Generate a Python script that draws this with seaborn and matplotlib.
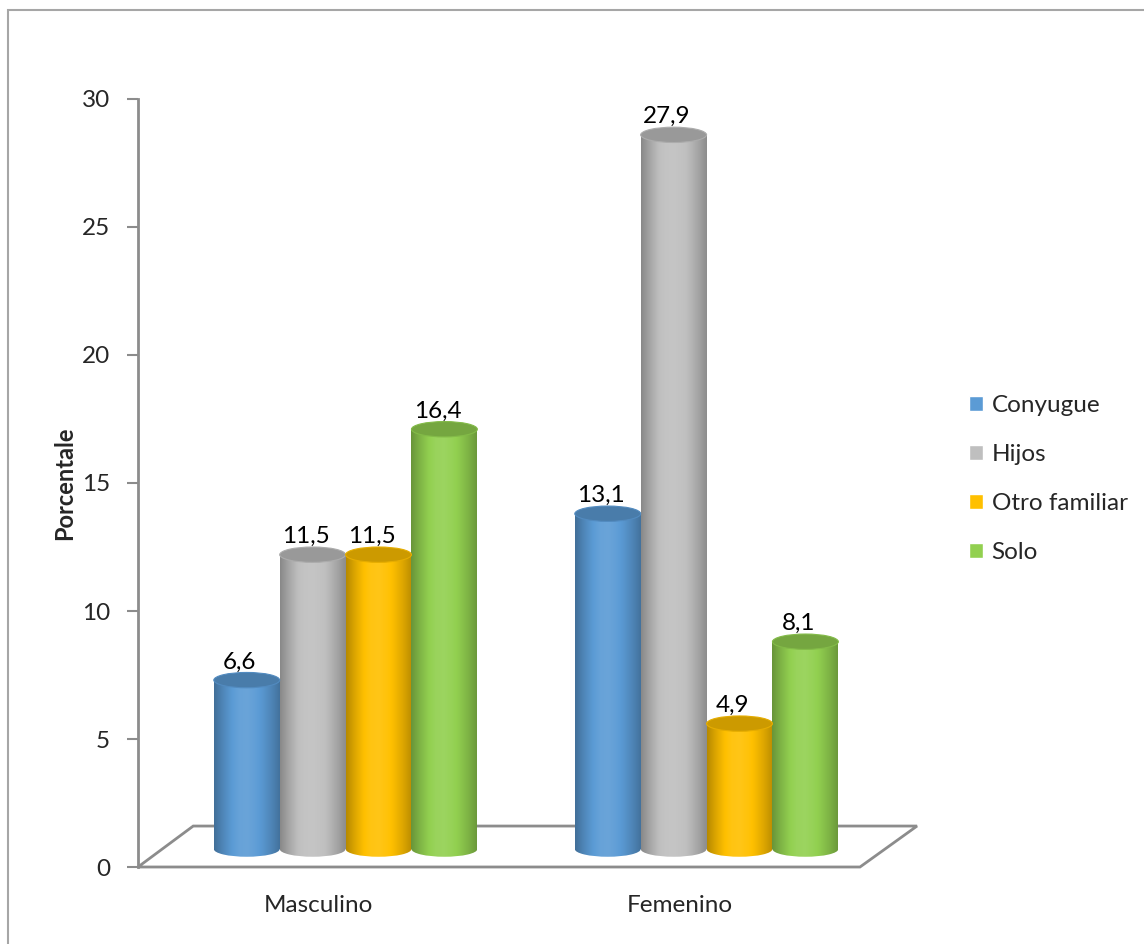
import numpy as np
import pandas as pd
import seaborn as sns
import matplotlib.colors as mcolors
from matplotlib import pyplot as plt
from matplotlib.patches import Ellipse, Polygon, Rectangle

sns.set_theme(style="white")
plt.rcParams["font.family"] = ["Lato", "DejaVu Sans"]

# data
sexo = ["Masculino", "Femenino"]
convive = ["Conyugue", "Hijos", "Otro familiar", "Solo"]
valores = {
    "Masculino": [6.6, 11.5, 11.5, 16.4],
    "Femenino": [13.1, 27.9, 4.9, 8.1],
}
colores = ["#5B9BD5", "#BFBFBF", "#FFC000", "#92D050"]
yticks = [0, 5, 10, 15, 20, 25, 30]

df = pd.DataFrame(
    [(s, c, v) for s in sexo for c, v in zip(convive, valores[s])],
    columns=["sexo", "convive", "pct"],
)

BASE = 0.7      # 3D depth lift of the bar bottoms
SHIFT = 0.075   # 3D depth shift to the right
CAP = 0.6       # ellipse height (data units)
FS = 17.5

fig = plt.figure(figsize=(11.44, 9.44), dpi=100)
ax = fig.add_axes([138 / 1144, 77 / 944, 722 / 1144, 768 / 944])

sns.barplot(
    data=df, x="sexo", y="pct", hue="convive", order=sexo, hue_order=convive,
    palette=colores, width=0.73, ax=ax, saturation=1, legend=True,
)


def shade(c, f):
    r = np.array(mcolors.to_rgb(c))
    return np.clip(r * f if f < 1 else r + (1 - r) * (f - 1), 0, 1)


# cylinder look: gradient body + ellipse caps
prof = np.array([0.72, 0.86, 0.98, 1.07, 1.09, 1.04, 0.96, 0.86, 0.74])
xs = np.linspace(0, 1, len(prof))
bars = [p for p in ax.patches if isinstance(p, Rectangle) and p.get_height() > 0][: len(df)]
for p in bars:
    fc = p.get_facecolor()
    p.set_x(p.get_x() + SHIFT)
    p.set_y(BASE)
    x0, w = p.get_x(), p.get_width()
    y0, h = p.get_y(), p.get_height()
    grad = np.array([shade(fc, f) for f in np.interp(np.linspace(0, 1, 64), xs, prof)])[None, :, :]
    bottom_ell = Ellipse((x0 + w / 2, y0), w, CAP, facecolor="none", edgecolor="none")
    ax.add_patch(bottom_ell)
    for clip in (p, bottom_ell):
        im = ax.imshow(grad, extent=(x0, x0 + w, y0 - CAP, y0 + h), aspect="auto",
                       interpolation="bilinear", zorder=2)
        im.set_clip_path(clip)
    p.set_facecolor("none")
    p.set_edgecolor("none")
    top = y0 + h
    ax.add_patch(Ellipse((x0 + w / 2, top), w, CAP, facecolor=shade(fc, 0.8),
                         edgecolor=shade(fc, 0.9), lw=0.8, zorder=3))
    ax.annotate(f"{h:.1f}".replace(".", ","), (x0 + w / 2, top + CAP / 2),
                xytext=(-5, 0), textcoords="offset points", ha="center", va="bottom",
                fontsize=FS, color="black", zorder=4)

ax.set_xlim(-0.5, 1.5)
ax.set_ylim(0, 30)
ax.set_yticks(yticks)
ax.set_xlabel("")
ax.set_ylabel("Porcentale", fontsize=17, fontweight="bold", labelpad=4)
ax.tick_params(axis="y", left=True, length=8, width=1.5, color="#8C8C8C", pad=12, labelsize=FS)
ax.tick_params(axis="x", length=0, pad=20, labelsize=FS)
for s in ["top", "right", "bottom"]:
    ax.spines[s].set_visible(False)
ax.spines["left"].set_color("#8C8C8C")
ax.spines["left"].set_linewidth(2)

# floor of the 3D chart
ax.add_patch(Polygon([(-0.5, 0), (1.5, 0), (1.658, 1.6), (-0.347, 1.6)], closed=True,
                     facecolor="none", edgecolor="#8C8C8C", lw=2, clip_on=False, zorder=1))

handles, labels = ax.get_legend_handles_labels()
ax.legend(handles, labels, loc="center left", bbox_to_anchor=(1.12, 0.505), frameon=False,
          fontsize=FS, handlelength=0.6, handleheight=0.6, handletextpad=0.35, labelspacing=1.15)

# outer chart border
fig.add_artist(Rectangle((8 / 1144, -0.1), 1.2, (944 - 10) / 944 + 0.1, transform=fig.transFigure,
                         facecolor="none", edgecolor="#A6A6A6", lw=1.5))

fig.savefig("out.png", dpi=100)
